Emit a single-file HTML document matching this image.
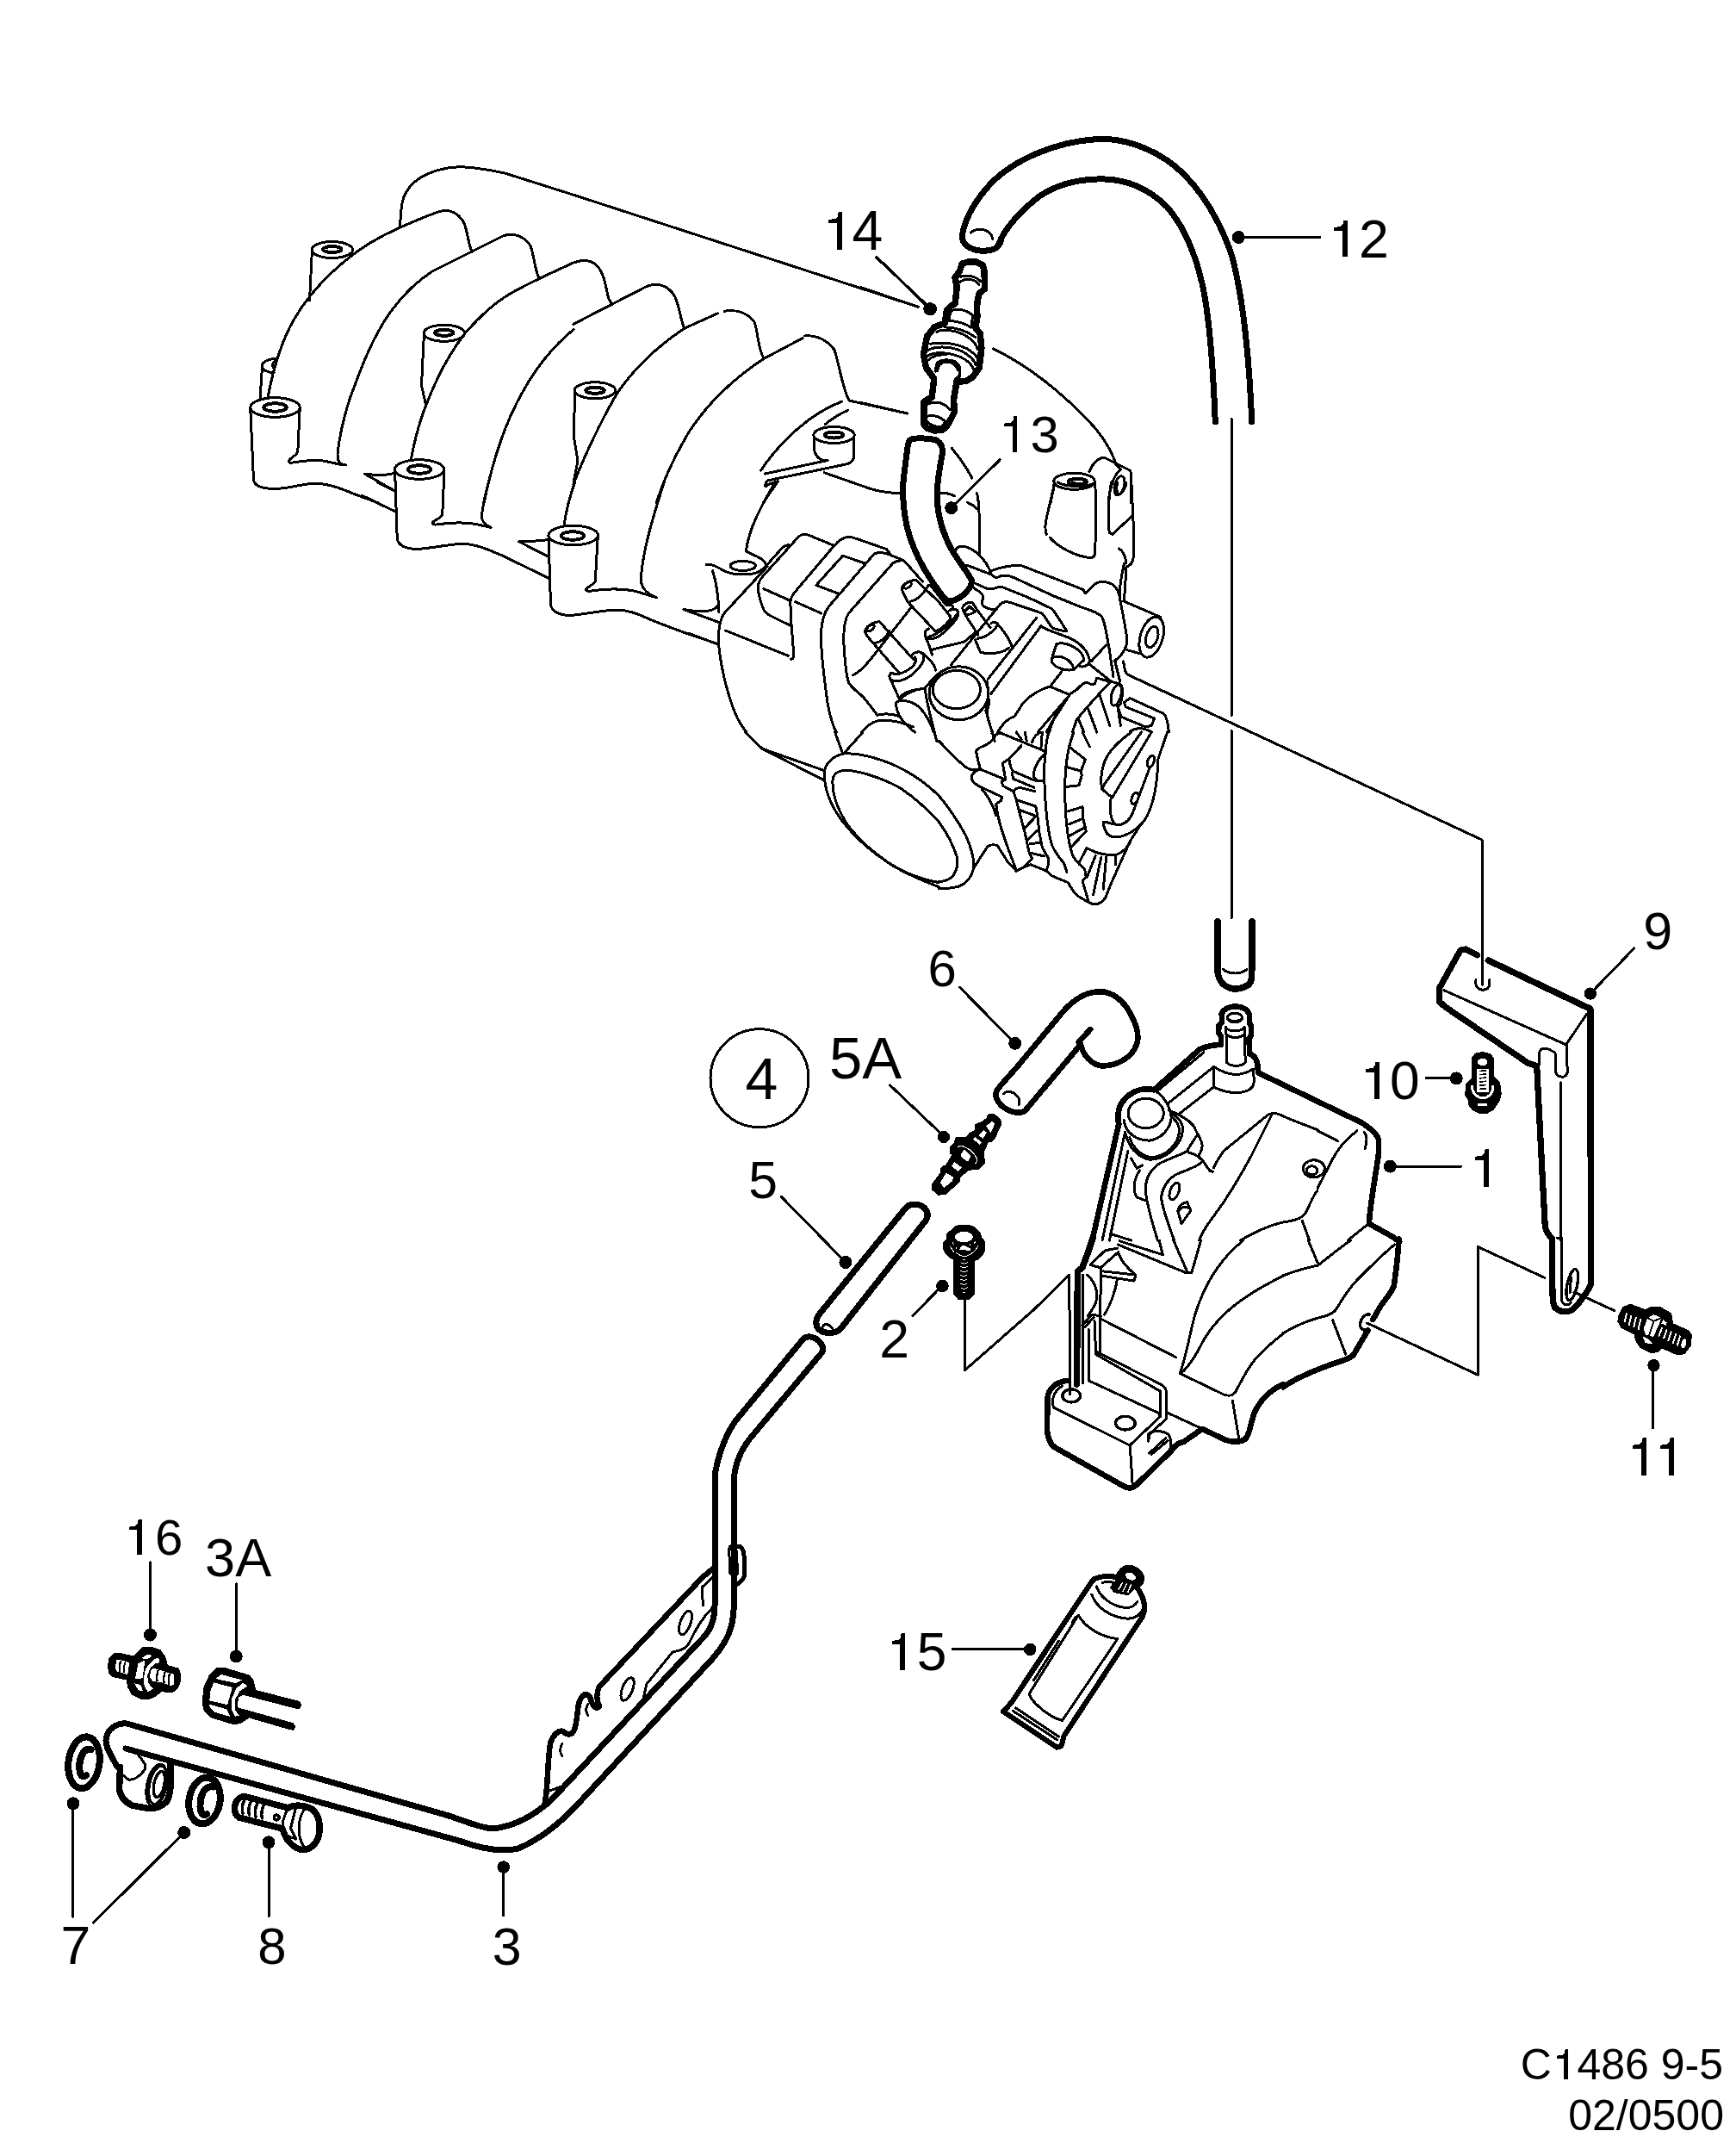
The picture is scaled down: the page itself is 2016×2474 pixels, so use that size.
<!DOCTYPE html>
<html><head><meta charset="utf-8"><title>C1486 9-5</title>
<style>
html,body{margin:0;padding:0;background:#fff;}
body{width:2016px;height:2474px;overflow:hidden;font-family:"Liberation Sans",sans-serif;}
svg{display:block;position:absolute;left:0;top:0;shape-rendering:crispEdges;}
svg text{font-family:"Liberation Sans",sans-serif;fill:#000;}
.t{fill:none;stroke:#000;stroke-width:3.0;stroke-linecap:round;stroke-linejoin:round;vector-effect:non-scaling-stroke;}
.m{fill:none;stroke:#000;stroke-width:3.4;stroke-linecap:round;stroke-linejoin:round;vector-effect:non-scaling-stroke;}
.k{fill:none;stroke:#000;stroke-width:6.6;stroke-linecap:round;stroke-linejoin:round;vector-effect:non-scaling-stroke;}
.r{fill:none;stroke:#000;stroke-width:4;vector-effect:non-scaling-stroke;}
.w{fill:#fff;}
.d{fill:#000;stroke:none;}
</style></head><body>
<svg width="2016" height="2474" viewBox="0 0 2016 2474">
<!-- Tile A origin 232,150 4x -->
<g transform="translate(232,150) scale(0.25)">
<path class="t" d="M930,450 C935,380 935,330 960,290 C1000,220 1100,180 1200,175 C1280,175 1350,190 1420,205 L1736,305"/>
<path class="t" d="M315,1250 C340,1120 380,980 440,880 C520,740 680,580 860,490 C950,445 1050,405 1110,383 C1160,368 1200,390 1225,430 C1245,470 1245,530 1265,570"/>
<path class="t" d="M680,1560 C650,1555 640,1545 640,1510 C650,1400 690,1260 720,1190 C770,1050 830,920 900,830 C960,750 1020,700 1080,660 L1410,495 C1460,478 1510,500 1535,540 C1555,590 1555,650 1575,690"/>
<path class="t" d="M980,1540 C1000,1430 1030,1330 1060,1260 C1110,1130 1170,1030 1230,950 C1300,870 1380,800 1440,765 C1500,730 1560,700 1736,620"/>
<path class="t" d="M1736,930 C1640,1010 1560,1110 1500,1220 C1420,1360 1360,1540 1320,1736"/>
<!-- boss A -->
<path class="t" d="M522,555 L510,795"/>
<ellipse class="t" cx="615" cy="560" rx="95" ry="38"/>
<ellipse class="r" cx="615" cy="558" rx="43" ry="14"/>
<!-- boss B partial -->
<path class="t" d="M362,1065 C320,1065 290,1080 288,1100 C290,1120 320,1130 345,1130"/>
<path class="t" d="M350,1078 C335,1085 335,1105 348,1110"/>
<path class="t" d="M290,1100 L280,1255"/>
<!-- boss C -->
<ellipse class="t" cx="350" cy="1292" rx="115" ry="45"/>
<ellipse class="r" cx="350" cy="1292" rx="53" ry="19"/>
<path class="t" d="M235,1295 L250,1630 C255,1655 290,1670 350,1670 C420,1668 470,1648 530,1645 C600,1645 660,1670 720,1695 L830,1736"/>
<path class="t" d="M465,1295 L455,1500 C445,1520 420,1525 413,1540 C415,1555 430,1548 450,1545 C500,1538 560,1535 600,1545 C630,1552 660,1560 680,1560"/>
<!-- boss D -->
<ellipse class="t" cx="1135" cy="947" rx="95" ry="38"/>
<ellipse class="r" cx="1135" cy="945" rx="43" ry="14"/>
<path class="t" d="M1042,945 L1030,1190 L1050,1280"/>
<!-- boss E -->
<ellipse class="t" cx="1020" cy="1580" rx="115" ry="45"/>
<ellipse class="r" cx="1020" cy="1580" rx="53" ry="19"/>
<path class="t" d="M907,1585 L910,1736 M1135,1585 L1130,1736"/>
<path class="t" d="M907,1595 C870,1610 820,1608 765,1600 L907,1680"/>
</g>
<!-- Tile B origin 666,150 4x -->
<g transform="translate(666,150) scale(0.25)">
<path class="t" d="M0,305 L1600,825"/>
<path class="t" d="M1410,595 L1650,830"/><circle class="d" cx="1655" cy="835" r="30"/>
<path class="t" d="M0,620 C40,605 80,605 110,635 C150,680 150,750 165,790 L180,815"/>
<path class="t" d="M0,905 L340,730 C390,710 440,725 470,775 C495,830 495,880 515,925"/>
<path class="t" d="M0,1650 C40,1540 120,1370 200,1230 C280,1110 400,1000 515,925 L670,855"/>
<path class="t" d="M700,845 C760,835 810,855 840,895 C860,950 855,1020 885,1065"/>
<path class="t" d="M385,1736 C420,1620 480,1500 540,1400 C620,1280 740,1160 885,1065 L1065,970"/>
<path class="t" d="M1075,960 C1130,955 1180,980 1212,1025 C1235,1090 1245,1190 1280,1260 L1550,1320"/>
<!-- boss F -->
<ellipse class="t" cx="100" cy="1213" rx="95" ry="38"/>
<ellipse class="r" cx="100" cy="1213" rx="43" ry="14"/>
<path class="t" d="M8,1215 L0,1420 L20,1540 L0,1640"/>
<!-- lower right curves -->
<path class="t" d="M1245,1265 C1100,1320 960,1450 870,1585"/>
<path class="t" d="M1275,1305 C1230,1325 1200,1345 1170,1370"/>
<ellipse class="t" cx="1210" cy="1420" rx="95" ry="38"/>
<ellipse class="r" cx="1210" cy="1420" rx="43" ry="14"/>
<path class="t" d="M1117,1425 L1117,1480 C1120,1520 1150,1545 1180,1538 L890,1600"/>
<path class="t" d="M1303,1425 L1303,1525 C1295,1545 1285,1552 1270,1555 L900,1632 C890,1640 890,1650 892,1660 C910,1645 930,1640 950,1635 L880,1736"/>
<path class="t" d="M1165,1595 L1380,1670 C1430,1685 1480,1690 1520,1690"/>
</g>
<!-- Tile C origin 1000,150 4x -->
<g transform="translate(1000,150) scale(0.25)">
<!-- hose 12 -->
<path class="k" style="stroke-width:7" d="M470,490 C480,420 530,330 600,255 C700,150 900,50 1130,45"/>
<path class="k" style="stroke-width:7" d="M640,530 C670,460 740,380 830,310 C920,250 1030,230 1130,232"/>
<path class="k" style="stroke-width:7" d="M470,490 C465,530 500,560 560,565 C610,565 640,555 650,515"/>
<path class="t" d="M510,480 C540,455 600,460 612,510"/>
<!-- leader 14 -->
<path class="t" d="M70,595 L320,830"/><circle class="d" cx="322" cy="835" r="30"/>
<path class="t" d="M0,735 L265,825"/>
<path class="t" d="M0,1270 L215,1320"/>
<path class="t" d="M615,1020 C800,1110 960,1250 1080,1380 C1140,1450 1170,1510 1185,1560"/>
<path class="t" d="M645,1535 L418,1759"/>
<path class="t" d="M420,1480 C470,1540 495,1580 515,1620"/>
<!-- label 13 -->
<!-- boss -->
<ellipse class="t" cx="990" cy="1635" rx="95" ry="38"/>
<ellipse class="r" cx="1005" cy="1637" rx="43" ry="14"/>
<path class="t" d="M900,1640 L880,1736"/>
<!-- bracket ear -->
<path class="t" d="M1060,1590 C1075,1555 1100,1525 1130,1525 L1250,1585 C1258,1600 1255,1680 1255,1736"/>
<path class="t" d="M1185,1560 L1205,1580 C1170,1610 1150,1680 1150,1736"/>
<ellipse class="t" cx="1200" cy="1655" rx="22" ry="45" transform="rotate(15 1200 1655)"/>
<path class="t" d="M1720,1345 L1720,1736"/>
</g>
<!-- Tile D origin 1300,150 4x -->
<g transform="translate(1300,150) scale(0.25)">
<path class="k" style="stroke-width:7" d="M-70,45 C60,50 200,110 300,210 C400,310 470,440 520,580 C570,760 600,1000 615,1360"/>
<path class="k" style="stroke-width:7" d="M-70,232 C40,235 140,280 220,360 C300,450 350,570 385,720 C420,880 435,1100 445,1360"/>
<circle class="d" cx="553" cy="502" r="30"/><path class="t" d="M553,502 L930,502"/>
</g>
<!-- Tile E origin 420,560 4x -->
<g transform="translate(420,560) scale(0.25)">
<path class="t" d="M155,-40 L165,265 C175,295 210,310 260,310 C330,305 400,288 470,285 C540,288 600,318 660,343 L868,445"/>
<path class="t" d="M383,-40 L375,150 C365,170 335,175 328,188 C335,202 350,195 400,190 C450,186 500,186 550,198 L600,210 C570,195 556,180 558,150 C565,100 575,50 590,0"/>
<path class="t" d="M75,0 L155,40 M0,60 L155,135"/>
<!-- boss H -->
<ellipse class="t" cx="983" cy="246" rx="115" ry="45"/>
<ellipse class="r" cx="980" cy="248" rx="53" ry="19"/>
<path class="t" d="M868,250 L878,570 C885,600 920,618 970,618 C1040,612 1110,596 1180,592 C1250,592 1300,620 1360,645 C1460,685 1560,720 1655,750"/>
<path class="t" d="M1097,250 L1085,460 C1075,480 1050,480 1042,498 C1048,512 1070,502 1120,498 C1170,494 1220,494 1270,505 L1370,535 C1320,515 1298,490 1297,450 C1305,330 1340,200 1405,0"/>
<path class="t" d="M990,0 C965,70 950,130 940,200"/>
<path class="t" d="M868,265 C830,275 780,272 730,275 L868,345"/>
</g>
<!-- long assembly lines (native coords) -->
<path class="t" d="M1430,486 L1430,831 M1430,848 L1430,1066"/>
<path class="t" d="M1309,783 L1721,975 L1721,1050"/>
<path class="t" d="M1120.2,1525 L1120.2,1591 L1200,1521"/>
<!-- Tile F1 origin 800,560 scale 290/1736 -->
<g transform="translate(800,560) scale(0.16705)">
<path class="t" d="M600,0 C540,100 470,220 430,340 C410,410 395,450 400,480 C430,500 490,515 520,545 L545,580"/>
<path class="t" d="M530,20 L600,0"/>
<ellipse class="t" cx="375" cy="580" rx="88" ry="33"/>
<path class="t" d="M120,570 C160,565 200,590 250,618 C310,645 430,650 490,620 C520,600 540,575 560,555 L640,465 C655,445 675,438 695,435"/>
<path class="t" d="M165,615 C190,690 205,800 208,900"/>
<path class="t" d="M-37,883 C80,905 175,900 205,855"/>
<path class="t" d="M-37,883 L209,973 M0,1050 L200,1125"/>
<path class="t" d="M545,585 L250,905 C215,950 205,1010 205,1100 C215,1250 260,1450 320,1600 C345,1660 370,1700 400,1736"/>
<path class="t" d="M255,1030 L690,1205"/>
<!-- block 1 -->
<path class="t" d="M480,730 C480,690 500,665 530,635 L765,375 C785,358 820,360 840,370 L1010,440"/>
<path class="t" d="M480,730 C485,790 505,850 520,885 C535,915 560,925 705,995"/>
<path class="t" d="M520,740 L700,820"/>
<!-- block 2 -->
<path class="t" d="M705,830 C708,795 730,770 760,735 L1010,440 C1040,405 1075,380 1110,380 C1140,380 1160,390 1190,400 L1375,465 L1400,500"/>
<path class="t" d="M705,830 L712,980 L728,1180 C730,1215 728,1228 710,1228"/>
<path class="t" d="M740,830 L920,910"/>
<path class="t" d="M1045,775 L885,715 L1070,510 L1230,565"/>
<!-- block 3 -->
<path class="t" d="M1290,495 L975,860 C935,910 920,990 918,1060 C920,1200 945,1400 965,1540 C980,1620 1000,1690 1025,1736"/>
<path class="t" d="M1290,495 C1320,485 1370,488 1400,505 L1475,535 C1500,545 1520,570 1545,600 L1625,690"/>
<path class="t" d="M1480,545 C1455,542 1440,548 1420,560 L1110,910 C1080,960 1072,1040 1078,1140 C1085,1260 1095,1340 1110,1390 C1130,1430 1180,1460 1215,1495 C1260,1550 1290,1590 1310,1618 C1360,1605 1420,1610 1460,1625"/>
<!-- nipple 2 -->
<path class="t" d="M1465,1328 L1240,1070 L1225,1040 C1225,1010 1260,975 1325,968 L1560,1230"/>
<ellipse class="t" cx="1262" cy="1012" rx="30" ry="17" transform="rotate(-35 1262 1012)"/>
<path class="t" d="M1285,1120 C1340,1110 1380,1075 1390,1030"/>
<path class="t" d="M1550,1200 C1570,1175 1615,1170 1632,1195 C1645,1240 1600,1300 1540,1345 C1480,1385 1420,1395 1400,1365 C1390,1350 1395,1335 1405,1325"/>
<path class="t" d="M1415,1325 C1440,1345 1500,1325 1550,1285 C1580,1255 1585,1230 1570,1215"/>
<path class="t" d="M1545,870 L1310,1170 C1250,1250 1190,1320 1140,1340"/>
<!-- nipple 1 -->
<path class="t" d="M1700,1020 L1520,830 L1480,745 C1480,715 1520,680 1580,680 L1736,830"/>
<ellipse class="t" cx="1520" cy="715" rx="30" ry="17" transform="rotate(-35 1520 715)"/>
<path class="t" d="M1535,830 C1590,815 1630,780 1650,735"/>
<!-- top line -->
<!-- lower right -->
<path class="t" d="M1400,1365 L1470,1520"/>
<path class="t" d="M1460,1520 C1500,1470 1560,1440 1640,1430 C1680,1380 1700,1360 1736,1330"/>
<path class="t" d="M1570,1736 C1500,1680 1440,1620 1440,1530 C1470,1505 1540,1515 1600,1560 C1650,1610 1690,1690 1700,1736"/>
<path class="t" d="M1200,1736 C1240,1690 1280,1658 1330,1655 C1400,1650 1490,1670 1560,1700"/>
</g>
<!-- Tile F2 origin 1090,560 scale 290/1736 -->
<g transform="translate(1090,560) scale(0.16705)">
<circle class="d" cx="88" cy="178" r="45"/>
<path class="t" d="M0,72 C40,70 80,80 112,95"/>
<path class="t" d="M265,75 C280,120 283,180 283,300 L283,505"/>
<path class="t" d="M200,140 C230,152 250,165 268,185"/>
<!-- ear shape -->
<path class="t" d="M118,475 C125,440 170,435 225,462 C290,500 345,570 365,635"/>
<path class="t" d="M195,575 L365,640 C385,660 400,668 420,655 C460,640 500,650 530,665 L800,790 L1000,870 C1060,890 1110,905 1135,935 C1160,980 1165,1050 1185,1150 L1215,1350"/>
<path class="t" d="M365,615 C420,595 500,570 580,580 L1005,745 L1020,772 L1090,705 C1120,685 1170,685 1210,710 C1240,735 1255,770 1260,800"/>
<path class="t" d="M250,700 L335,738 C355,748 380,742 420,725 C440,722 460,735 560,775 C640,805 720,845 790,880 C820,920 850,970 892,1035 C850,1030 800,1015 790,1010 C770,990 745,940 720,912 C700,900 620,878 500,835 C470,828 445,830 430,845 L85,1270"/>
<path class="t" d="M245,735 C290,760 315,780 310,805 C300,825 295,840 310,858 C330,875 370,885 400,885"/>
<!-- nipple 3 -->
<path class="t" d="M275,1060 L185,920 L165,875 C170,850 200,830 235,835 L270,890 L360,1010"/>
<path class="t" d="M185,915 C215,925 250,905 268,888 M185,893 L215,862 L245,890"/>
<path class="t" d="M270,1085 C330,1080 390,1030 410,990 C405,970 385,970 365,978"/>
<path class="t" d="M255,1095 L290,1180 C340,1195 440,1195 488,1150"/>
<path class="t" d="M410,985 C460,1040 500,1100 512,1150"/>
<!-- diagonals -->
<path class="t" d="M680,942 L342,1368 M365,1468 L712,998 C750,1030 820,1045 880,1070 C960,1095 1040,1160 1050,1240 C1045,1275 1000,1290 975,1275"/>
<!-- big boss -->
<ellipse class="t" cx="140" cy="1465" rx="205" ry="185"/>
<ellipse class="t" cx="125" cy="1440" rx="165" ry="132"/>
<path class="t" d="M345,1480 C350,1520 355,1545 340,1575 C330,1610 355,1690 375,1736"/>
<!-- upper right boss cylinder -->
<path class="t" d="M805,0 C790,100 750,220 742,300 C740,330 745,350 750,362"/>
<path class="t" d="M775,385 C830,450 950,515 1060,525 C1080,520 1088,510 1088,480 L1095,200 L1088,0"/>
<path class="t" d="M830,0 C880,30 1020,40 1085,5 M930,0 C960,12 1000,12 1030,0"/>
<path class="t" d="M1200,0 C1185,90 1178,200 1180,290 L1187,352 L1210,360 L1340,238"/>
<path class="t" d="M1245,0 C1232,40 1238,80 1255,85 C1280,75 1300,40 1305,0"/>
<path class="t" d="M1340,0 L1352,250 C1360,400 1362,500 1350,545 C1340,570 1325,580 1310,587"/>
<path class="t" d="M1255,460 C1285,480 1300,520 1303,560"/>
<path class="t" d="M1290,565 C1270,650 1255,740 1258,820 M1305,590 L1290,820"/>
<path class="t" d="M1258,790 C1270,870 1300,1000 1310,1090 C1312,1140 1290,1190 1225,1240 L1260,1380"/>
<path class="t" d="M1285,825 L1540,935 M1310,1165 L1400,1190"/>
<ellipse class="t" cx="1480" cy="1075" rx="78" ry="145" transform="rotate(17 1480 1075)"/>
<ellipse class="t" cx="1483" cy="1075" rx="40" ry="75" transform="rotate(17 1483 1075)"/>
<path class="t" d="M1285,1245 C1290,1290 1300,1325 1312,1335 L1736,1532"/>
<path class="t" d="M1165,1130 L1060,1245"/>
<!-- small cylinder -->
<path class="t" d="M820,1125 C860,1105 940,1130 990,1185 C1005,1205 1010,1220 1010,1235 L940,1300 C900,1315 820,1295 790,1255 C780,1235 800,1180 820,1125"/>
<path class="t" d="M795,1218 C850,1195 920,1230 940,1295"/>
<path class="t" d="M855,1315 L775,1420 L910,1475"/>
<path class="t" d="M770,1420 C700,1440 640,1480 590,1530 C560,1570 540,1620 520,1630 C480,1640 450,1670 410,1736"/>
<!-- linkage -->
<path class="t" d="M1050,1265 L1200,1385 L1260,1400 C1285,1420 1285,1460 1265,1540 L1245,1560"/>
<path class="t" d="M1195,1385 L1100,1360 L1085,1400 C1070,1415 1045,1395 1030,1390 C1010,1388 980,1420 960,1440 L910,1475 C880,1530 830,1600 780,1680 L750,1736"/>
<path class="t" d="M1195,1385 C1120,1465 1030,1560 960,1650 L930,1736"/>
<ellipse class="t" cx="1235" cy="1478" rx="33" ry="75" transform="rotate(15 1235 1478)"/>
<path class="t" d="M1120,1480 L1190,1690 M1040,1575 L1100,1736 M975,1650 L1010,1736"/>
<path class="t" d="M900,1490 L690,1736 M860,1545 C820,1600 785,1670 770,1736"/>
<path class="t" d="M1600,1736 C1595,1670 1585,1620 1560,1605 L1330,1500 L1290,1530 L1300,1560 L1500,1640 L1480,1690 L1440,1700 L1270,1630 L1245,1560 L1265,1690"/>
<path class="t" d="M1330,1730 C1370,1705 1420,1700 1480,1736"/>
</g>
<!-- Tile F3 origin 800,850 scale 290/1736 -->
<g transform="translate(800,850) scale(0.16705)">
<path class="t" d="M390,0 L510,115 L935,265 M510,115 L940,335"/>
<path class="t" d="M1015,0 L1070,150 M1210,0 L1075,150"/>
<path class="t" d="M1075,150 C1000,165 945,220 940,285 C942,400 980,500 1060,610 C1160,740 1300,860 1450,945 C1560,1005 1680,1035 1736,1045"/>
<path class="t" d="M1075,150 C1200,140 1380,200 1500,265 C1600,320 1680,385 1736,440"/>
<path class="t" d="M1000,330 C1005,290 1040,265 1100,265 C1220,275 1380,335 1480,395 C1580,465 1680,560 1736,620"/>
<path class="t" d="M1000,330 C995,420 1030,530 1100,640 C1180,750 1300,850 1420,930 C1540,1000 1660,1045 1736,1075"/>
</g>
<!-- Tile F4 origin 1090,850 scale 290/1736 -->
<g transform="translate(1090,850) scale(0.16705)">
<path class="t" d="M0,440 C60,510 130,610 190,720 C225,800 245,880 245,930 C240,990 200,1050 140,1072 C90,1088 40,1088 0,1085"/>
<path class="t" d="M0,620 C50,690 100,780 125,860 C140,920 125,970 90,1010 C60,1030 30,1040 0,1040"/>
<path class="t" d="M0,60 C70,130 150,220 200,250 C220,262 260,265 290,258"/>
<path class="t" d="M290,258 C275,200 262,160 262,130 C270,105 320,100 350,75 C375,55 395,40 390,25 L370,10"/>
<path class="t" d="M395,20 L430,5 L745,135"/>
<path class="t" d="M290,258 C250,265 225,295 230,325 C240,355 265,368 290,380 L440,450 L435,475 L400,500 C405,580 440,690 480,800 L540,960"/>
<path class="t" d="M300,395 C340,440 380,510 400,580"/>
<path class="t" d="M575,95 L490,185 C495,230 505,260 520,272 L665,335 L735,340"/>
<path class="t" d="M490,185 L445,215 L465,330 L290,258"/>
<path class="t" d="M465,330 L440,340 L445,372 L520,412 C530,395 550,385 575,388 L670,412"/>
<path class="t" d="M510,285 L520,325 L665,385"/>
<path class="t" d="M735,340 C690,345 660,330 660,290 C665,240 700,180 745,150"/>
<path class="t" d="M520,412 L540,470 L675,515 L690,600 L700,700 L720,800 L765,880 L760,930 L750,960"/>
<path class="t" d="M540,470 L560,550 L600,700 L630,840 L650,880"/>
<path class="t" d="M560,540 L670,580 M600,665 L672,590 M615,752 L682,685 M635,775 L700,770 M640,840 L735,862"/>
<path class="t" d="M650,880 L590,940 L540,965 L480,900 L410,790 C390,780 360,780 340,795 L250,935"/>
<path class="t" d="M590,940 L640,920 L750,965 L790,1000 L900,1045 C920,1080 940,1120 970,1140 C1000,1160 1040,1180 1070,1195 C1110,1200 1140,1180 1160,1150 L1200,1050 L1330,760 L1400,650"/>
<!-- band -->
<path class="t" d="M765,0 C740,100 730,250 738,400 C745,550 760,700 790,790 C815,850 860,890 875,920 L892,975"/>
<path class="t" d="M940,0 C900,100 878,230 878,400 C880,600 900,760 930,850 C950,900 990,930 1015,950 L1025,1005 L1000,1035 L1040,1170"/>
<path class="t" d="M905,100 L1020,190 L990,270 L880,240 M990,270 L995,300 L975,370 L885,380"/>
<path class="t" d="M900,550 L1000,520 L1005,600 L905,640 M1005,600 L1025,690 L920,800 M1020,660 L910,720"/>
<path class="t" d="M975,910 L1030,805 C1090,840 1160,860 1240,850 C1290,830 1310,800 1330,770"/>
<path class="t" d="M1090,860 L1030,1010 M1130,870 L1075,1130 M1165,870 L1145,1090 M1230,860 L1230,920"/>
<!-- sector plate -->
<path class="t" d="M1590,0 L1525,190 C1522,350 1500,480 1450,580 C1410,660 1320,720 1240,730 C1180,732 1150,690 1145,625 C1165,618 1190,640 1230,640"/>
<path class="t" d="M1410,0 L1150,365 L1135,395 L1200,450 C1185,530 1195,600 1225,640 C1280,660 1330,610 1350,560 L1470,240"/>
<path class="t" d="M1340,0 C1270,50 1190,120 1155,200 C1130,270 1125,340 1135,395"/>
<path class="t" d="M1480,0 L1210,450"/>
<ellipse class="t" cx="1475" cy="203" rx="22" ry="42" transform="rotate(20 1475 203)"/>
<ellipse class="t" cx="1365" cy="460" rx="22" ry="42" transform="rotate(20 1365 460)"/>
<!-- top bits -->
<path class="t" d="M540,0 L575,50 M600,0 L612,60 M1000,0 L1050,100"/>
<path class="t" d="M650,70 C660,30 690,5 720,0 L712,110"/>
</g>
<!-- extra throttle-body lines: origin 980,600 s=260/1736 -->
<g transform="translate(980,600) scale(0.14977)">
<path class="t" d="M630,1330 C635,1420 670,1540 720,1740"/>
<path class="t" d="M1110,1280 C1130,1380 1125,1440 1100,1500 L1170,1740"/>
<path class="t" d="M590,1050 C640,1075 700,1130 712,1190"/>
<path class="t" d="M430,1400 C470,1360 540,1335 630,1332"/>
</g>
<!-- hose 13, origin 1000,500 scale 0.125 -->
<g transform="translate(1000,500) scale(0.125)">
<path class="k w" style="stroke-width:7" d="M450,90 C480,65 600,65 690,85 C750,110 765,170 750,240 C720,400 700,520 705,640 C715,800 770,980 850,1120 C920,1230 990,1320 1025,1385 C1035,1430 1000,1480 950,1525 C900,1565 840,1590 800,1580 C760,1550 700,1460 640,1370 C560,1250 490,1100 450,980 C400,820 385,650 390,500 C400,380 420,250 435,130 Z"/>
</g>
<!-- valve 14: origin 1040,290 s=140/1297 -->
<g transform="translate(1040,290) scale(0.10794)">
<path class="k w" style="stroke-width:7.5" d="M715,150 L780,130 L870,130 L940,165 L955,230 L960,420 L900,470 L880,560 L875,640 L880,720 L860,840 L910,900 L925,1060 L900,1270 L830,1370 L760,1410 L680,1420 L660,1400 L625,1620 L635,1740 L600,1810 L550,1900 L500,1940 L420,1945 L340,1920 L305,1880 L305,1640 L340,1610 L390,1590 L415,1385 L330,1270 L300,1130 L340,930 L420,830 L530,790 L550,650 L600,600 L640,580 L660,400 L640,300 L690,230 Z"/>
<path class="t" d="M700,290 C760,265 860,280 915,340 M690,350 C750,300 850,310 898,372"/>
<path class="t" d="M575,750 L590,670 C620,630 740,625 830,705 L815,835 M575,762 C660,770 750,790 812,835"/>
<path class="t" d="M530,832 C640,835 760,870 860,940"/>
<path class="t" d="M445,885 C470,860 520,858 600,870 C720,890 850,960 885,1070"/>
<path class="t" d="M375,1012 C480,990 640,1000 770,1065 C830,1100 860,1130 878,1160"/>
<path class="t" d="M355,1078 C420,1040 560,1030 700,1085 C790,1125 850,1190 862,1235"/>
<path class="t" d="M345,1142 C420,1095 560,1100 690,1150 C770,1185 825,1240 842,1290"/>
<path class="t" d="M355,1185 C400,1140 470,1125 540,1130"/>
<path class="m" d="M432,1305 L440,1232 C470,1185 560,1172 640,1205 C690,1235 700,1270 690,1330 L682,1385"/>
<path class="t" d="M452,1300 C455,1240 490,1208 550,1205 C610,1210 660,1245 670,1290"/>
<path class="t" d="M345,1662 C400,1630 480,1630 545,1680 L592,1722"/>
<path class="t" d="M340,1790 C400,1775 470,1790 532,1842 M345,1850 C380,1890 440,1910 490,1900 C515,1890 528,1865 532,1842"/>
</g>
<!-- nipple 1 lower + collar: origin 1030,640 s=120/1736 -->
<g transform="translate(1030,640) scale(0.069124)">
<path class="t" d="M868,848 L1060,1090"/>
<path class="t" d="M800,1340 C870,1335 960,1270 1060,1150 L1070,1090"/>
<path class="t" d="M1040,1000 C1080,975 1130,965 1180,990 C1215,1040 1200,1080 1170,1130 C1100,1230 1000,1330 900,1410 C840,1450 760,1480 680,1470 C640,1440 635,1380 650,1340 L700,1300"/>
<path class="t" d="M700,1440 C820,1400 940,1330 1060,1210 C1110,1150 1160,1080 1180,1050"/>
<path class="t" d="M640,1420 L700,1560 L760,1736 M740,1660 C900,1610 1150,1560 1300,1520 L1500,1350"/>
<path class="t" d="M660,620 L700,570 L740,580 L990,900 L1100,910 L1100,960 L1040,1000"/>
</g>
<!-- Tile H1 origin 1040,1080 4x : hose 6, label 6 -->
<g transform="translate(1040,1080) scale(0.25)">
<path class="t" d="M298,265 L555,525"/><circle class="d" cx="555" cy="525" r="30"/>
<path class="k w" d="M465,765 C465,745 470,740 560,640 L780,375 C830,320 890,285 950,285 C1010,285 1060,330 1090,385 C1120,440 1135,490 1120,530 C1100,590 1030,630 960,630 C910,625 870,580 860,530 L600,840 C560,860 500,830 480,800 C470,785 465,775 465,765 Z"/>
<path class="k" d="M905,460 L850,520"/>
<path class="t" d="M500,760 C520,740 555,750 572,780 C578,795 575,805 572,812"/>
<!-- hose 12 bottom end -->
<path class="k" style="stroke-width:7.5" d="M1496,-40 L1496,190 C1500,235 1520,262 1570,272 C1620,272 1650,255 1655,220 L1656,-40"/>
<path class="t" d="M1520,180 C1555,208 1600,205 1632,182"/>
</g>
<!-- 5A connector: origin 1060,1270 s=140/1736 -->
<g transform="translate(1060,1270) scale(0.080645)">
<circle class="d" cx="447" cy="620" r="88"/>
<path class="d" d="M1095,285 L1175,285 L1270,370 L1275,450 L1185,640 L1135,690 L1090,695 L1030,835 L1040,1000 L950,1090 L800,1100 L680,1215 L680,1260 L480,1450 L360,1460 L275,1380 L275,1295 L400,1130 L400,1070 L440,1030 L470,1030 L560,880 L535,860 L535,760 L590,700 L615,625 L770,620 L810,565 L890,520 L895,440 L930,420 L990,400 L1065,340 L1070,310 Z"/>
<path class="w" d="M1055,465 L1140,395 L1180,430 L1125,560 Z"/>
<path class="w" d="M1020,520 L1065,555 L1010,645 L950,595 Z"/>
<path class="w" d="M900,620 L990,700 L965,735 L870,650 Z"/>
<path class="w" d="M740,800 L840,890 L800,970 L770,965 L695,900 L695,870 Z"/>
<path class="w" d="M600,980 L705,1060 L655,1115 L560,1040 Z"/>
<path class="w" d="M480,1135 L585,1200 L565,1260 L450,1350 L395,1280 Z"/>
<path fill="none" stroke="#fff" stroke-width="14" d="M645,765 C700,730 800,770 880,860 C930,920 940,970 900,1000"/>
</g>
<!-- bolt 2: origin 1040,1380 s=140/1736 -->
<g transform="translate(1040,1380) scale(0.080645)">
<circle class="d" cx="675" cy="1400" r="90"/>
<path class="t" d="M995,1610 L995,1800"/>
<path class="d" d="M905,520 L1065,520 L1130,545 L1225,640 L1245,700 L1290,765 L1290,900 L1245,975 L1190,1025 L1140,1040 L1140,1520 L1060,1595 L900,1595 L830,1520 L830,1025 L770,990 L710,930 L685,870 L685,770 L735,720 L735,650 L790,600 L850,545 Z"/>
<ellipse class="w" cx="985" cy="695" rx="130" ry="75"/>
<path class="w" d="M915,880 L940,830 L990,815 L1040,845 L1075,860 L1075,890 Z"/>
<path fill="none" stroke="#fff" stroke-width="13" d="M785,830 L840,910 M870,920 C920,960 960,980 1010,975 C1090,950 1160,890 1190,820 M820,770 L840,810 M1130,790 L1155,760 M877,840 L880,870 M1068,795 L1075,815"/>
<path fill="none" stroke="#fff" stroke-width="12" d="M965,1022 L1005,1022 M940,1065 L985,1082 L1040,1060 M935,1120 L985,1138 L1040,1120 M935,1185 L985,1200 L1040,1185 M935,1245 L985,1262 L1030,1245 M935,1305 L985,1322 L1030,1305 M935,1365 L985,1382 L1030,1365 M940,1430 L985,1445 L1040,1420 M965,1495 L1005,1495"/>
</g>
<!-- Tile L origin 740,1150 4x : labels 4, 5A, 5, 2, tube 5 -->
<g transform="translate(740,1150) scale(0.25)">
<circle class="t" cx="568" cy="407" r="228"/>
<path class="t" d="M1175,440 L1425,678"/>
<path class="t" d="M670,958 L968,1262"/><circle class="d" cx="968" cy="1262" r="30"/>
<path class="t" d="M1280,1510 L1415,1372"/>
<path class="k w" style="stroke-width:7.2" d="M1245,1012 C1265,985 1310,988 1335,1010 C1352,1030 1352,1050 1340,1068 L945,1570 C920,1595 870,1598 840,1570 C825,1550 830,1520 848,1500 Z"/>
<path class="t" d="M860,1562 C872,1540 900,1550 912,1580"/>
</g>
<!-- Tile J1 origin 1240,1150 s=290/1736 -->
<g transform="translate(1240,1150) scale(0.16705)">
<path class="k" d="M355,925 L170,1736"/>
<path class="k" d="M600,690 L915,410 C950,390 1000,380 1065,375"/>
<path class="k" d="M600,690 C500,665 400,720 360,810 C345,860 348,900 355,930"/>
<path class="k" d="M1265,440 C1310,455 1325,500 1322,570 L1736,770"/>
<path class="k" d="M1065,375 L1065,320 L1048,290 L1050,245 L1072,218 L1070,160 C1085,125 1130,110 1170,110 C1210,112 1250,130 1262,165 L1262,225 L1276,250 L1276,310 L1260,332 L1265,440"/>
<ellipse class="t" cx="1161" cy="185" rx="50" ry="28"/>
<path class="t" d="M1110,195 C1130,230 1195,230 1213,195 M1098,255 C1120,290 1200,290 1228,255 M1098,255 L1100,300 C1130,335 1200,335 1228,300 L1228,255"/>
<path class="t" d="M1105,320 L1105,500 C1130,530 1210,530 1235,500 L1228,310"/>
<path class="t" d="M1015,530 C1080,570 1150,590 1200,580 C1240,572 1270,560 1282,545"/>
<path class="t" d="M1015,530 L1015,670 C1080,705 1180,725 1250,695 C1280,680 1295,660 1295,630 L1290,545"/>
<path class="t" d="M1015,530 L690,790 M1015,670 L770,860 M945,430 L620,700"/>
<!-- port -->
<path class="t" d="M600,695 C660,720 710,800 720,880 C715,960 650,1030 570,1042 C480,1045 400,990 390,900"/>
<ellipse class="t" cx="543" cy="853" rx="123" ry="103"/>
<path class="t" d="M400,990 C420,1080 480,1160 570,1175 C680,1175 790,1080 800,970 C800,920 770,880 725,860"/>
<path class="t" d="M430,1020 C450,1090 510,1150 580,1160 C680,1155 770,1070 775,980 C775,940 760,910 735,890"/>
<path class="t" d="M440,1165 L480,1235 L520,1215"/>
<path class="t" d="M398,985 L240,1736 M418,1115 L290,1736 M295,1690 L440,1736"/>
<!-- bracket -->
<path class="t" d="M700,830 C780,865 850,900 880,950 C900,1000 935,1040 935,1080 C930,1120 915,1140 905,1150"/>
<path class="t" d="M895,1010 L825,1120 C760,1150 680,1180 640,1200 C580,1240 545,1300 540,1370 C540,1450 570,1560 625,1736"/>
<path class="t" d="M500,1250 C470,1290 455,1350 465,1400 L478,1435 L540,1460"/>
<path class="t" d="M840,1125 C900,1140 940,1175 960,1215 L990,1255 L1008,1258"/>
<path class="t" d="M930,1195 C880,1235 800,1255 750,1280 C690,1315 655,1380 650,1440 C660,1530 710,1650 740,1736"/>
<ellipse class="t" cx="742" cy="1395" rx="30" ry="62" transform="rotate(22 742 1395)"/>
<path class="t" d="M790,1620 L765,1530 C770,1500 790,1478 830,1470 L855,1530 Z M778,1522 C800,1500 820,1500 838,1512"/>
<!-- box top -->
<path class="t" d="M1015,1230 C1040,1180 1060,1140 1090,1110 L1390,865 C1410,850 1450,850 1480,865 C1530,890 1640,930 1736,968"/>
<path class="t" d="M1415,870 L1280,1140 C1200,1290 1110,1440 1020,1560 C960,1640 925,1700 915,1736"/>
<path class="t" d="M1736,1390 C1700,1430 1680,1500 1650,1550 C1620,1590 1560,1600 1500,1610 C1400,1630 1280,1690 1200,1736"/>
<path class="t" d="M1630,1600 L1680,1736"/>
</g>
<!-- Tile J2 origin 1530,1150 s=290/1736 -->
<g transform="translate(1530,1150) scale(0.16705)">
<path class="k" d="M0,770 L310,920 C370,960 420,1000 425,1040 L425,1130 C410,1250 370,1450 358,1620 L520,1710 L570,1745"/>
<path class="t" d="M355,1620 L210,1736"/>
<path class="t" d="M330,1100 C345,1050 350,1010 325,985"/>
<path class="t" d="M275,975 C200,1030 140,1100 100,1180 L0,1375"/>
<path class="t" d="M0,975 L140,1045"/>
<ellipse class="t" cx="-25" cy="1238" rx="75" ry="60"/>
<ellipse class="t" cx="-38" cy="1250" rx="38" ry="30"/>
<!-- label 10 + bolt -->
<path class="t" d="M755,607 L965,607"/><circle class="d" cx="965" cy="610" r="45"/>
<path class="d" d="M1070,470 L1095,435 L1150,425 L1205,440 L1230,475 L1230,600 L1270,640 L1280,720 L1265,770 L1245,800 L1225,830 L1180,855 L1120,855 L1075,830 L1045,790 L1045,760 L1025,730 L1030,650 L1070,610 Z"/>
<ellipse class="w" cx="1148" cy="497" rx="35" ry="25"/>
<path class="w" d="M1105,545 L1192,545 L1192,705 L1105,705 Z"/>
<path fill="none" stroke="#000" stroke-width="10" d="M1125,560 L1175,555 M1125,585 L1175,580 M1125,610 L1175,605 M1125,635 L1175,630 M1125,660 L1175,655 M1125,685 L1175,680"/>
<path fill="none" stroke="#fff" stroke-width="18" d="M1075,660 C1070,710 1110,745 1150,748 C1195,745 1225,705 1220,660"/>
<path class="w" d="M1115,785 L1180,785 L1180,805 L1115,805 Z"/>
<!-- label 1 -->
<path class="t" d="M505,1222 L1000,1222"/><circle class="d" cx="505" cy="1222" r="45"/>
</g>
<!-- Tile J3 origin 1200,1440 s=290/1736 -->
<g transform="translate(1200,1440) scale(0.16705)">
<path class="k" style="stroke-width:7.5" d="M415,-20 C390,60 360,140 340,190 L308,215 L302,1000"/>
<path class="k" d="M230,975 C160,985 105,1030 100,1090 L95,1300 C98,1380 120,1425 160,1445 L640,1715 C670,1725 690,1722 710,1705 L960,1462 C980,1430 1010,1405 1045,1400 L1175,1310 L1330,1385 C1380,1405 1440,1405 1475,1380 C1510,1340 1510,1260 1540,1190 C1580,1110 1650,1040 1736,1000"/>
<path class="t" d="M0,485 L250,240 L255,1070"/>
<ellipse class="m" cx="265" cy="1080" rx="62" ry="45"/>
<ellipse class="m" cx="640" cy="1270" rx="68" ry="47"/>
<path class="t" d="M140,1160 C125,1110 140,1050 200,1012"/>
<path class="t" d="M140,1160 L670,1425 L885,1222 M672,1425 L690,1705"/>
<path class="t" d="M385,975 L870,1200 L885,1225 L885,1050 L440,795"/>
<path class="t" d="M440,775 L895,1005 C915,1020 925,1035 925,1060 L925,1240 L810,1345 L800,1395"/>
<path class="t" d="M345,240 L345,990 M385,620 L385,975 M425,560 L435,790 M468,190 L465,770"/>
<path class="t" d="M340,590 L410,515 L468,528 M360,600 L420,535"/>
<path class="t" d="M375,240 C430,290 455,360 435,430 C420,470 395,500 380,525"/>
<path class="t" d="M468,545 L990,812"/>
<path class="t" d="M400,172 L468,190 L590,82 M400,165 L500,70 L585,55 M485,215 L712,240 L700,282 L485,248"/>
<path class="t" d="M582,275 C570,360 530,460 495,515"/>
<path class="t" d="M590,82 C610,150 660,200 712,240"/>
<path class="t" d="M590,30 L1060,225 L1100,225 L1165,0 M600,5 L900,100 L875,0 M975,0 L1070,220"/>
<!-- right blob -->
<path class="t" d="M1020,920 C1060,820 1090,640 1120,530 C1170,360 1260,160 1460,0"/>
<path class="t" d="M1020,925 L1300,1060 C1340,1085 1380,1085 1405,1055 C1440,990 1480,900 1540,830 C1600,760 1670,700 1736,650"/>
<path class="t" d="M1030,920 C1090,870 1140,780 1180,700 C1260,560 1400,410 1736,248"/>
<path class="t" d="M1385,1115 L1430,1385 M925,1195 L1175,1310"/>
<path class="t" d="M800,1395 L800,1345 C830,1320 900,1320 940,1350 C960,1375 960,1420 950,1450 M920,1375 L805,1480 M935,1392 L822,1487"/>
</g>
<!-- Tile J4 origin 1490,1440 s=290/1736 -->
<g transform="translate(1490,1440) scale(0.16705)">
<path class="k" d="M805,-10 C800,100 785,220 770,320 C750,370 700,420 670,470 L625,550 M590,625 L490,795 C470,820 440,825 400,840 C250,890 100,950 0,1020"/>
<path class="t" d="M175,0 L240,155"/>
<path class="t" d="M0,245 C80,215 160,190 240,175 C290,140 380,60 470,0"/>
<path class="t" d="M775,30 C700,90 600,190 520,270 C450,340 400,430 365,485 C340,515 300,525 240,540 C150,565 60,610 0,645"/>
<path class="t" d="M345,555 L435,790"/>
<path class="m" d="M600,515 C570,510 545,535 537,575 C532,610 550,630 590,622"/>
<path class="t" d="M585,575 L1355,935 L1355,45 L1819,260"/>
</g>
<!-- Tile K1 origin 1640,1050 s=376/1736 : bracket 9 upper -->
<g transform="translate(1640,1050) scale(0.21659)">
<path class="k" style="stroke-width:7.2" d="M348,272 L285,240 L258,246 L145,450 L145,520 L175,548 L620,850 L668,866 L690,1300 L712,1722"/>
<path class="k" style="stroke-width:7.5" d="M408,300 L955,560 L958,1800"/>
<path class="t" d="M170,460 L825,752 L935,588"/>
<path class="t" d="M680,862 L683,790 C690,768 715,768 735,778 L762,792 C770,800 770,815 770,830 L770,900 C780,930 825,935 832,900 L828,755"/>
<path class="t" d="M797,955 L797,1800"/>
<path class="t" d="M377,-100 L377,430"/>
<path class="t" d="M342,405 C335,440 355,458 380,458 C405,458 420,440 414,405"/>
<path class="t" d="M1190,235 L955,478"/><circle class="d" cx="955" cy="478" r="33"/>
</g>
<!-- Tile K2 origin 1640,1400 s=376/1736 : bracket 9 lower, bolt 11 -->
<g transform="translate(1640,1400) scale(0.21659)">
<path class="k" style="stroke-width:7.2" d="M958,100 L958,420 C940,460 900,520 860,555 C830,575 790,570 765,545 C752,520 752,480 752,400 L752,178 C735,160 716,140 712,106"/>
<path class="t" d="M778,172 L800,172 L800,500 C805,530 830,540 850,520"/>
<ellipse class="m" cx="858" cy="423" rx="27" ry="85" transform="rotate(12 858 423)"/>
<path class="t" d="M852,385 L845,465"/>
<path class="t" d="M868,462 L1085,562"/>
<path class="d" d="M1105,590 L1130,540 L1170,525 L1250,555 L1280,540 L1330,540 L1390,575 L1400,630 L1480,665 L1500,690 L1495,750 L1460,795 L1420,800 L1340,765 L1320,785 L1280,790 L1220,760 L1195,720 L1190,690 L1120,655 L1100,620 Z"/>
<path class="w" d="M1262,600 L1295,582 L1335,600 L1322,640 L1292,702 L1252,690 L1240,660 Z"/>
<path fill="none" stroke="#000" stroke-width="9" d="M1262,600 L1295,618 L1335,600 M1295,618 L1270,695"/>
<path fill="none" stroke="#fff" stroke-width="9" d="M1150,575 L1138,625 M1175,585 L1162,640 M1200,595 L1188,650 M1225,605 L1212,665 M1340,650 L1322,700 M1365,662 L1348,712 M1390,672 L1372,725 M1415,682 L1397,737 M1438,695 L1420,750"/>
<ellipse class="w" cx="1456" cy="738" rx="13" ry="26" transform="rotate(15 1456 738)"/>
<path class="w" d="M1235,700 L1265,712 L1290,740 L1250,735 Z M1345,610 L1365,625 L1360,640 L1335,630 Z"/>
<circle class="d" cx="1295" cy="855" r="33"/><path class="t" d="M1293,855 L1290,1190"/>
</g>
<!-- banjo body behind pipe; Tile N3 origin 110,1890 s=250/1736 -->
<g transform="translate(110,1890) scale(0.14401)">
<path class="w" d="M210,1130 L200,1300 C205,1350 240,1400 300,1430 L430,1455 C480,1458 540,1440 580,1400 C605,1360 615,1280 615,1200 L610,1110 L350,1000 Z"/>
<path class="k" style="stroke-width:7.5" d="M205,1120 L198,1300 C205,1350 240,1400 300,1430 L430,1455 C480,1458 540,1440 580,1400 C605,1360 615,1280 615,1200 L610,1100"/>
<path class="t" d="M232,1190 L275,1225 C320,1225 370,1190 405,1140 L410,1105 L345,1012"/>
<ellipse class="t" cx="500" cy="1268" rx="78" ry="172" transform="rotate(12 500 1268)"/>
<ellipse class="t" cx="508" cy="1266" rx="66" ry="155" transform="rotate(12 508 1266)"/>
<ellipse class="m" cx="520" cy="1260" rx="42" ry="105" transform="rotate(12 520 1260)"/>
</g>
<!-- pipe 3 bracket plate (native coords) -->
<path class="k" style="stroke-width:6.5" d="M828,1821 L816,1831 L696,1958 C692,1966 693,1975 696,1981 C692,1986 688,1980 685,1970 C680,1965 676,1966 672,1978 C670,1990 670,2000 667,2008 C664,2016 658,2014 654,2010 C648,2008 642,2015 639,2024 C636,2045 636,2070 634,2085 L632,2099"/>
<path class="t" d="M828,1866 C815,1878 806,1895 800,1908 C795,1916 788,1916 781,1918 L751,1955 L747,1972"/>
<ellipse class="t" cx="796" cy="1884" rx="6" ry="14.5" transform="rotate(20 796 1884)"/>
<ellipse class="t" cx="728.6" cy="1961" rx="6" ry="14" transform="rotate(22 728.6 1961)"/>
<path class="t" d="M683,1978 C680,1982 680,1988 683,1992 M653,2024 C650,2029 650,2035 653,2039"/>
<path class="t" d="M828,1831 L815,1843 L816.5,1864"/>
<path class="t" d="M638,2079 L651,2074.5 L639.5,2087.5"/>
<!-- pipe 3 body fill -->
<path class="w" d="M931.5,1556 L853.8,1650 C842,1667 835,1687 830.5,1710 L830,1868 C829,1885 822,1897 813,1905 L640,2090 C620,2108 598,2120 573,2123 C556,2122 540,2114 521,2108 L151,2002 C140,1998 127,2005 124,2015 C120,2025 128,2036 136,2051 L146,2030 L533,2137 C555,2145 580,2151 602,2146 C630,2134 654,2114 677,2088 L828,1925 C845,1905 851,1890 852,1869 L852,1719 C854,1698 860,1684 871,1670 L953,1572 Z"/>
<path class="k" style="stroke-width:7" d="M136,2051 C128,2036 120,2025 124,2015 C127,2005 140,1998 151,2002 L521,2108 C540,2114 556,2122 573,2123 C598,2120 620,2108 640,2090 L813,1905 C822,1897 829,1885 830,1868 L830.5,1710 C835,1687 842,1667 853.8,1650 L931.5,1556 C936,1549 946,1552 951,1557 C957,1563 957,1568 953,1572 L871,1670 C860,1684 854,1698 852,1719 L852,1869 C851,1890 845,1905 828,1925 L677,2088 C654,2114 630,2134 602,2146 C580,2151 555,2145 533,2137 L146,2030"/>
<!-- clip -->
<path class="k" style="stroke-width:5" d="M848,1796 L859,1795 C863,1798 864,1802 864,1806 L865,1825 C865,1832 860,1838 855,1840"/>
<path class="t" d="M846.6,1798 L855.2,1801 L856.7,1827 L848,1827 Z"/>
<!-- dot 3 -->
<circle class="d" cx="584.7" cy="2167.6" r="7.3"/><path class="t" d="M584.7,2167.6 L584.7,2224"/>
<!-- Tile N origin 40,1760 4x : labels 16, 3A, leaders -->
<g transform="translate(40,1760) scale(0.25)">
<path class="t" d="M538,215 L538,550"/><circle class="d" cx="538" cy="552" r="30"/>
<path class="t" d="M937,315 L937,650"/><circle class="d" cx="937" cy="652" r="30"/>
<circle class="d" cx="180" cy="1335" r="30"/><path class="t" d="M180,1335 L178,1860"/>
<circle class="d" cx="695" cy="1470" r="30"/><path class="t" d="M695,1470 L275,1888"/>
<circle class="d" cx="1088" cy="1515" r="30"/><path class="t" d="M1088,1515 L1088,1858"/>
<!-- washer 7 left -->
<ellipse class="k" style="stroke-width:8" cx="230" cy="1145" rx="72" ry="120" transform="rotate(8 230 1145)"/>
<path class="k" style="stroke-width:8" d="M262,1085 C225,1075 205,1130 210,1180 C215,1210 225,1215 240,1205"/>
<!-- washer 7 right -->
<ellipse class="k" style="stroke-width:8" cx="790" cy="1322" rx="72" ry="108" transform="rotate(10 790 1322)"/>
<path class="k" style="stroke-width:8" d="M828,1258 C790,1250 768,1300 770,1350 C772,1385 785,1392 800,1385"/>
<!-- bolt 8 -->
<path class="k w" style="stroke-width:7.5" d="M930,1352 C932,1325 950,1305 975,1302 L1180,1356 C1200,1340 1250,1340 1290,1362 C1322,1390 1330,1430 1322,1480 C1312,1525 1280,1550 1245,1550 C1200,1545 1165,1500 1152,1452 L950,1400 C935,1390 928,1372 930,1352 Z"/>
<path class="t" d="M1180,1356 C1160,1390 1150,1420 1152,1452 M1215,1350 L1190,1450 M1260,1355 C1230,1390 1220,1450 1235,1500 C1245,1530 1255,1545 1265,1548 M1190,1450 L1215,1500 M1175,1485 C1185,1490 1200,1495 1215,1500"/>
<path class="m" d="M975,1320 C965,1340 962,1360 968,1380 M1005,1328 C995,1348 992,1368 998,1388 M1035,1336 C1025,1356 1022,1376 1028,1396 M1065,1344 C1055,1364 1052,1384 1058,1404"/>
<circle class="m" cx="1125" cy="1400" r="12"/>
</g>
<!-- Tile N3 origin 110,1890 s=250/1736 : parts 16, 3A, banjo -->
<g transform="translate(110,1890) scale(0.14401)">
<path class="d" d="M105,300 L115,240 L150,205 L200,200 L310,225 L380,155 L450,150 L530,175 L570,230 L590,300 L680,325 L695,370 L690,450 L660,500 L620,525 L540,515 L480,560 L430,580 L370,575 L300,540 L265,480 L255,420 L140,395 L110,360 Z"/>
<path class="w" d="M175,260 L200,255 L280,280 L265,375 L180,350 L165,320 Z"/>
<path fill="none" stroke="#000" stroke-width="14" d="M212,262 C200,290 195,320 200,352 M248,272 C236,300 232,330 238,362"/>
<path class="w" d="M375,245 L420,215 L465,220 L430,250 Z"/>
<path class="w" d="M350,285 L405,262 L385,405 L325,412 Z"/>
<path class="w" d="M320,445 L370,460 L390,510 L350,500 Z"/>
<path class="w" d="M440,290 L480,250 L515,240 L525,280 L490,285 L450,320 L425,380 L430,440 L470,490 L430,515 L400,470 L395,400 L410,330 Z"/>
<path class="w" d="M450,340 L475,325 L510,335 L640,375 L640,455 L615,465 L540,440 L470,430 L445,400 Z"/>
<path fill="none" stroke="#000" stroke-width="16" d="M512,338 C502,370 498,400 505,432 M567,355 C557,385 553,415 560,447 M603,367 C595,395 592,425 596,457"/>
<!-- 3A -->
<path class="d" d="M985,320 L1050,320 L1250,380 L1280,420 L1300,500 L1650,590 L1670,620 L1655,650 L1620,650 L1195,540 L1160,560 L1150,640 L1600,765 L1620,795 L1605,825 L1570,820 L1245,725 L1180,770 L1120,780 L940,725 L880,670 L865,600 L880,470 L920,385 Z"/>
<path class="w" d="M975,410 L1020,375 L1190,420 L1140,445 Z"/>
<path class="w" d="M960,440 L1110,480 L1070,620 L925,585 L935,500 Z"/>
<path class="w" d="M920,615 L1065,655 L1095,715 L970,680 L935,650 Z"/>
<path class="w" d="M1195,440 L1230,470 L1170,510 L1135,570 L1130,660 L1165,705 L1130,715 L1105,660 L1105,570 L1140,490 Z"/>
</g>
<!-- Tile P origin 1020,1760 s=360/1736 : tube 15 -->
<g transform="translate(1020,1760) scale(0.20737)">
<path class="t" d="M415,745 L850,745"/><circle class="d" cx="850" cy="747" r="35"/>
<path class="k w" style="stroke-width:6.2" d="M700,1095 L1000,1295 C1020,1295 1030,1280 1032,1260 L1040,1230 L1478,565 C1495,530 1495,480 1465,425 L1445,395 C1465,385 1478,365 1475,340 C1465,310 1435,290 1400,288 C1375,290 1355,305 1340,345 C1300,333 1240,335 1205,355 L1180,390 L745,1045 Z"/>
<path class="t" d="M755,1092 L1000,1252 M770,1075 L1010,1235"/>
<path class="t" d="M1120,555 L845,995 C850,1030 940,1120 1030,1145 L1340,688 C1260,680 1160,630 1120,555"/>
<path class="t" d="M1105,565 L1085,600 M1010,700 L870,920"/>
<path class="t" d="M1195,440 C1220,510 1300,570 1400,575 C1440,572 1470,550 1482,520"/>
<path class="t" d="M1222,395 C1240,450 1300,505 1390,515 C1420,512 1440,500 1450,480"/>
<path class="t" d="M1255,375 C1275,365 1300,365 1320,375"/>
<path class="d" d="M1340,345 L1375,295 L1400,288 L1450,305 L1475,340 L1470,375 L1445,400 L1400,445 L1320,430 L1295,400 Z"/>
<ellipse class="w" cx="1413" cy="338" rx="32" ry="19" transform="rotate(25 1413 338)"/>
<path fill="none" stroke="#fff" stroke-width="8" d="M1368,372 L1345,412 M1392,378 L1368,425 M1416,382 L1396,430"/>
</g>
<polygon class="d" points="974.3,246.2 978.3,246.2 978.3,290.0 972.3,290.0 972.3,259.1 962.2,259.1 962.2,255.4 966.3,254.4 970.3,254.1 973.1,250.9 973.4,247.5"/>
<text x="989.5" y="290.0" font-size="64.3">4</text>
<polygon class="d" points="1560.7,255.5 1564.6,255.5 1564.6,298.4 1558.7,298.4 1558.7,268.1 1548.9,268.1 1548.9,264.5 1552.8,263.5 1556.7,263.3 1559.6,260.1 1559.8,256.8"/>
<text x="1578.1" y="298.9" font-size="62.7">2</text>
<polygon class="d" points="1177.6,483.0 1181.4,483.0 1181.4,524.5 1175.7,524.5 1175.7,495.2 1166.2,495.2 1166.2,491.7 1170.1,490.7 1173.8,490.5 1176.6,487.5 1176.8,484.2"/>
<text x="1196.5" y="525.0" font-size="59.9">3</text>
<text x="1077.4" y="1145.0" font-size="59.9">6</text>
<text x="1908.3" y="1102.0" font-size="61.0">9</text>
<polygon class="d" points="1597.9,1232.5 1601.8,1232.5 1601.8,1275.5 1595.9,1275.5 1595.9,1245.1 1586.0,1245.1 1586.0,1241.5 1590.0,1240.5 1593.9,1240.2 1596.7,1237.1 1597.0,1233.7"/>
<text x="1614.1" y="1276.1" font-size="62.3">0</text>
<polygon class="d" points="1725.1,1333.8 1729.1,1333.8 1729.1,1378.0 1723.0,1378.0 1723.0,1346.8 1712.9,1346.8 1712.9,1343.1 1717.0,1342.0 1721.0,1341.8 1723.9,1338.5 1724.2,1335.1"/>
<polygon class="d" points="1908.0,1668.9 1912.0,1668.9 1912.0,1712.9 1906.0,1712.9 1906.0,1681.8 1895.9,1681.8 1895.9,1678.1 1899.9,1677.1 1904.0,1676.8 1906.9,1673.6 1907.1,1670.2"/>
<polygon class="d" points="1940.0,1668.9 1944.0,1668.9 1944.0,1712.9 1938.0,1712.9 1938.0,1681.8 1927.9,1681.8 1927.9,1678.1 1931.9,1677.1 1935.9,1676.8 1938.9,1673.6 1939.1,1670.2"/>
<text x="865.4" y="1276.2" font-size="68.0">4</text>
<text x="963.0" y="1251.9" font-size="68.9">5A</text>
<text x="869.2" y="1391.2" font-size="60.7">5</text>
<text x="1021.2" y="1576.2" font-size="62.5">2</text>
<text x="571.8" y="2280.5" font-size="60.8">3</text>
<polygon class="d" points="161.1,1764.3 164.7,1764.3 164.7,1804.5 159.2,1804.5 159.2,1776.0 150.0,1776.0 150.0,1772.7 153.7,1771.7 157.4,1771.5 160.0,1768.6 160.3,1765.4"/>
<text x="180.0" y="1805.0" font-size="58.1">6</text>
<text x="238.1" y="1830.0" font-size="63.1">3A</text>
<text x="70.6" y="2280.0" font-size="62.5">7</text>
<text x="299.2" y="2280.0" font-size="59.9">8</text>
<polygon class="d" points="1047.3,1896.3 1051.2,1896.3 1051.2,1938.9 1045.3,1938.9 1045.3,1908.8 1035.6,1908.8 1035.6,1905.3 1039.5,1904.3 1043.4,1904.0 1046.2,1900.9 1046.4,1897.6"/>
<text x="1064.7" y="1939.4" font-size="62.3">5</text>
<text x="1765.7" y="2414.3" font-size="50">C</text>
<polygon class="d" points="1818.0,2379.4 1821.2,2379.4 1821.2,2414.3 1816.4,2414.3 1816.4,2389.6 1808.4,2389.6 1808.4,2386.7 1811.6,2385.9 1814.8,2385.7 1817.1,2383.1 1817.3,2380.4"/>
<text x="2001" y="2414.3" font-size="50" text-anchor="end">486 9-5</text>
<text x="2002" y="2473" font-size="50" text-anchor="end">02/0500</text>

</svg>
</body></html>
